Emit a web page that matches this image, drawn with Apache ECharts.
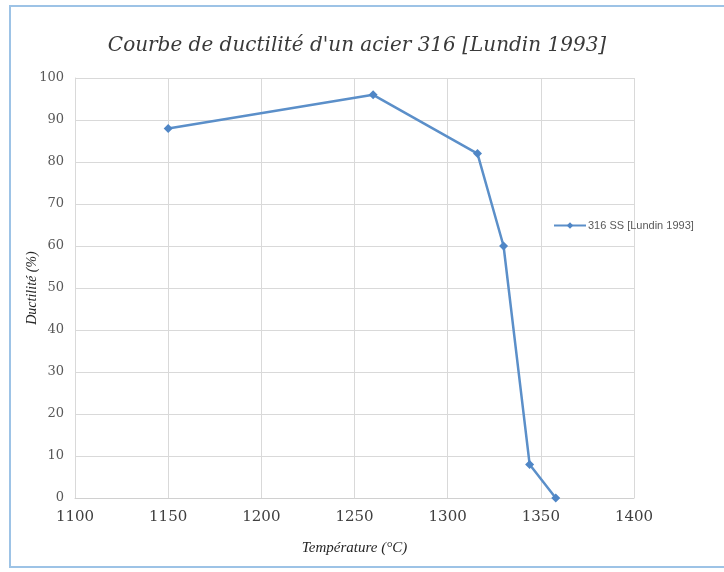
<!DOCTYPE html>
<html>
<head>
<meta charset="utf-8">
<script src="https://cdn.jsdelivr.net/npm/echarts@6/dist/echarts.min.js"></script>
<style>
  html, body { margin: 0; padding: 0; background: #ffffff; }
  #chart { width: 724px; height: 572px; }
</style>
</head>
<body>
<div id="chart"></div>
<script>
// Ductility curve of a 316 stainless steel (Lundin 1993)
const seriesName = '316 SS [Lundin 1993]';
const temperatures = [1150, 1260, 1316, 1330, 1344, 1358];   // °C
const ductility = [88, 96, 82, 60, 8, 0];                     // %
const xTicks = { min: 1100, max: 1400, step: 50 };
const yTicks = { min: 0, max: 100, step: 10 };

const points = temperatures.map((t, i) => [t, ductility[i]]);

const chart = echarts.init(document.getElementById('chart'), null, { renderer: 'canvas' });

chart.setOption({
  backgroundColor: '#ffffff',
  animation: false,
  title: {
    text: "Courbe de ductilité d'un acier 316 [Lundin 1993]",
    left: 352,
    top: 31,
    textAlign: 'center',
    textStyle: {
      fontFamily: 'DejaVu Serif',
      fontStyle: 'italic',
      fontWeight: 'normal',
      fontSize: 20,
      color: '#3a3a3a'
    }
  },
  graphic: [{
    type: 'rect',
    silent: true,
    shape: { x: 10, y: 6, width: 730, height: 561 },
    style: { fill: 'none', stroke: '#9dc3e6', lineWidth: 2 }
  }],
  legend: {
    orient: 'vertical',
    left: 548,
    top: 215,
    itemWidth: 32,
    itemHeight: 8,
    itemGap: 4,
    textStyle: {
      fontFamily: 'Liberation Sans',
      fontSize: 11,
      color: '#595959',
      padding: [0, 0, 0, -3]
    },
    data: [seriesName]
  },
  grid: { left: 75, right: 90, top: 78, bottom: 74 },
  xAxis: {
    type: 'value',
    min: xTicks.min,
    max: xTicks.max,
    interval: xTicks.step,
    name: 'Température (°C)',
    nameLocation: 'middle',
    nameGap: 43,
    nameMoveOverlap: false,
    nameTextStyle: {
      fontFamily: 'Liberation Serif',
      fontStyle: 'italic',
      fontSize: 15,
      color: '#262626'
    },
    axisLine: { show: true, lineStyle: { color: '#d0d0d0', width: 1 } },
    axisTick: { show: false },
    axisLabel: {
      margin: 12,
      fontFamily: 'DejaVu Serif',
      fontSize: 15,
      color: '#404040',
      formatter: (v) => String(v)
    },
    splitLine: { show: true, lineStyle: { color: '#d9d9d9', width: 1 } }
  },
  yAxis: {
    type: 'value',
    min: yTicks.min,
    max: yTicks.max,
    interval: yTicks.step,
    name: 'Ductilité (%)',
    nameLocation: 'middle',
    nameGap: 36,
    nameMoveOverlap: false,
    nameTextStyle: {
      fontFamily: 'Liberation Serif',
      fontStyle: 'italic',
      fontSize: 14,
      color: '#262626'
    },
    axisLine: { show: true, lineStyle: { color: '#d9d9d9', width: 1 } },
    axisTick: { show: false },
    axisLabel: {
      margin: 11,
      fontFamily: 'DejaVu Serif',
      fontSize: 13,
      color: '#595959'
    },
    splitLine: { show: true, lineStyle: { color: '#d9d9d9', width: 1 } }
  },
  series: [{
    name: seriesName,
    type: 'line',
    data: points,
    symbol: 'diamond',
    symbolSize: 9,
    lineStyle: { color: '#5b8fc9', width: 2.5 },
    itemStyle: { color: '#4f86c6' }
  }]
});
</script>
</body>
</html>
